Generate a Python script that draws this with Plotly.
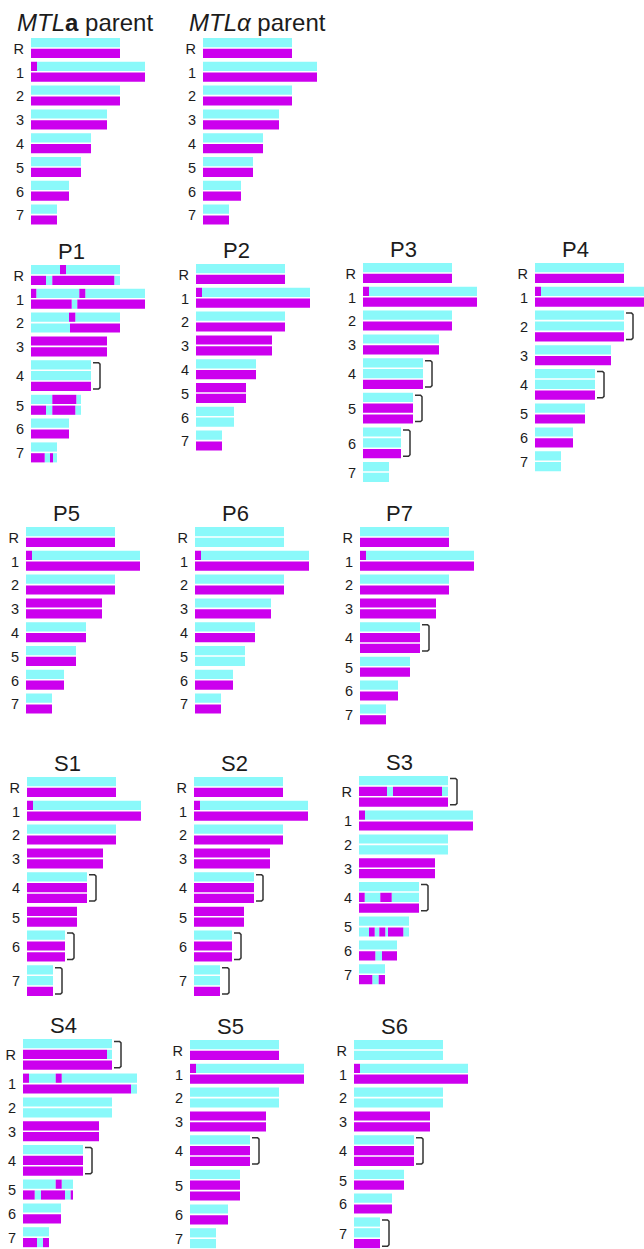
import plotly.graph_objects as go

# ---------------- data ----------------
chrom_names = ["R", "1", "2", "3", "4", "5", "6", "7"]
chrom_len = [89, 114, 89, 76, 60, 50, 38, 26]

# A homolog is either "c" / "m" (whole chromosome one haplotype)
# or a list of (haplotype, start, end) segments along the chromosome.
TIP1 = [("m", 0, 6), ("c", 6, 114)]

mtla = [["c", "m"], [TIP1, "m"], ["c", "m"], ["c", "m"], ["c", "m"], ["c", "m"], ["c", "m"], ["c", "m"]]
mtlalpha = [["c", "m"], ["c", "m"], ["c", "m"], ["c", "m"], ["c", "m"], ["c", "m"], ["c", "m"], ["c", "m"]]

p1 = [
    [[("c", 0, 29), ("m", 29, 35), ("c", 35, 89)],
     [("m", 0, 15), ("c", 15, 21.3), ("m", 21.3, 83.3), ("c", 83.3, 89)]],
    [[("m", 0, 5.3), ("c", 5.3, 48.3), ("m", 48.3, 54.3), ("c", 54.3, 114)],
     [("m", 0, 40.7), ("c", 40.7, 46.3), ("m", 46.3, 114)]],
    [[("c", 0, 38), ("m", 38, 44.3), ("c", 44.3, 89)],
     [("c", 0, 39), ("m", 39, 89)]],
    ["m", "m"],
    ["c", "c", "m"],
    [[("c", 0, 21.3), ("m", 21.3, 45.3), ("c", 45.3, 50)],
     [("m", 0, 15), ("c", 15, 21.3), ("m", 21.3, 44.3), ("c", 44.3, 50)]],
    ["c", "m"],
    ["c", [("m", 0, 13.7), ("c", 13.7, 19), ("m", 19, 22), ("c", 22, 26)]],
]
p2 = [["c", "m"], [TIP1, "m"], ["c", "m"], ["m", "m"], ["c", "m"], ["m", "m"], ["c", "c"], ["c", "m"]]
p3 = [["c", "m"], [TIP1, "m"], ["c", "m"], ["c", "m"], ["c", "c", "m"], ["c", "m", "m"], ["c", "c", "m"], ["c", "c"]]
p4 = [["c", "m"], [TIP1, "m"], ["c", "c", "m"], ["c", "m"], ["c", "c", "m"], ["c", "m"], ["c", "m"], ["c", "c"]]
p5 = [["c", "m"], [TIP1, "m"], ["c", "m"], ["m", "m"], ["c", "m"], ["c", "m"], ["c", "m"], ["c", "m"]]
p6 = [["c", "c"], [TIP1, "m"], ["c", "m"], ["c", "m"], ["c", "m"], ["c", "c"], ["c", "m"], ["c", "m"]]
p7 = [["c", "m"], [TIP1, "m"], ["c", "m"], ["m", "m"], ["c", "m", "m"], ["c", "m"], ["c", "m"], ["c", "m"]]
s1 = [["c", "m"], [TIP1, "m"], ["c", "m"], ["m", "m"], ["c", "m", "m"], ["m", "m"], ["c", "m", "m"], ["c", "c", "m"]]
s2 = [["c", "m"], [TIP1, "m"], ["c", "m"], ["m", "m"], ["c", "m", "m"], ["m", "m"], ["c", "m", "m"], ["c", "c", "m"]]
s3 = [
    ["c", [("m", 0, 28), ("c", 28, 34), ("m", 34, 83), ("c", 83, 89)], "m"],
    [TIP1, "m"],
    ["c", "c"],
    ["m", "m"],
    ["c", [("m", 0, 5.7), ("c", 5.7, 21.3), ("m", 21.3, 32.7), ("c", 32.7, 60)], "m"],
    ["c", [("c", 0, 10), ("m", 10, 15.7), ("c", 15.7, 20.3), ("m", 20.3, 26.3),
           ("c", 26.3, 29), ("m", 29, 44.3), ("c", 44.3, 50)]],
    ["c", [("m", 0, 16.3), ("c", 16.3, 23), ("m", 23, 38)]],
    ["c", [("m", 0, 13.3), ("c", 13.3, 19.7), ("m", 19.7, 26)]],
]
s4 = [
    ["c", [("m", 0, 84), ("c", 84, 89)], "m"],
    [[("m", 0, 6), ("c", 6, 32.7), ("m", 32.7, 38.7), ("c", 38.7, 114)],
     [("m", 0, 108), ("c", 108, 114)]],
    ["c", "c"],
    ["m", "m"],
    ["c", "m", "m"],
    [[("c", 0, 32.7), ("m", 32.7, 38.7), ("c", 38.7, 50)],
     [("m", 0, 11.7), ("c", 11.7, 18), ("m", 18, 42), ("c", 42, 47.7), ("m", 47.7, 50)]],
    ["c", "m"],
    ["c", [("m", 0, 14), ("c", 14, 20), ("m", 20, 26)]],
]
s5 = [["c", "m"], [TIP1, "m"], ["c", "c"], ["m", "m"], ["c", "m", "m"], ["c", "m", "m"], ["c", "m"], ["c", "c"]]
s6 = [["c", "c"], [TIP1, "m"], ["c", "c"], ["m", "m"], ["c", "m", "m"], ["c", "m"], ["c", "m"], ["c", "c", "m"]]

karyotypes = {
    "MTLa": mtla, "MTLalpha": mtlalpha,
    "P1": p1, "P2": p2, "P3": p3, "P4": p4, "P5": p5, "P6": p6, "P7": p7,
    "S1": s1, "S2": s2, "S3": s3, "S4": s4, "S5": s5, "S6": s6,
}

# trisomies marked with a bracket
brackets = {
    "P1": ["4"], "P3": ["4", "5", "6"], "P4": ["2", "4"], "P7": ["4"],
    "S1": ["4", "6", "7"], "S2": ["4", "6", "7"], "S3": ["R", "4"],
    "S4": ["R", "4"], "S5": ["4"], "S6": ["4", "7"],
}

titles = {
    "MTLa": "<i>MTL</i><b>a</b> parent",
    "MTLalpha": "<i>MTLα</i> parent",
    "P1": "P1", "P2": "P2", "P3": "P3", "P4": "P4", "P5": "P5", "P6": "P6", "P7": "P7",
    "S1": "S1", "S2": "S2", "S3": "S3", "S4": "S4", "S5": "S5", "S6": "S6",
}

# ---------------- layout / style ----------------
W, H = 644, 1249
# left edge of the bars and top of the first bar of each panel (pixels)
origins = {
    "MTLa": (31, 38), "MTLalpha": (203, 38),
    "P1": (31, 265), "P2": (196, 264), "P3": (363, 263), "P4": (535, 263),
    "P5": (26, 527), "P6": (195, 527), "P7": (360, 527),
    "S1": (27, 777), "S2": (194, 777), "S3": (359, 776),
    "S4": (23, 1039), "S5": (190, 1040), "S6": (354, 1040),
}
COLORS = {"c": "#8AF9FA", "m": "#CC00EE"}
PITCH = 10.8     # distance between homolog bars
BAR = 9.2        # bar thickness
CHR_GAP = 2.2    # extra space between chromosomes
XSPAN = 130
HEAD = 34        # room above the first bar for the panel title
FONT = "Liberation Sans, Arial, Helvetica, sans-serif"
TEXT = "#1c1c1c"


def segments(hom, length):
    if isinstance(hom, str):
        return [(hom, 0, length)]
    return hom


fig = go.Figure()
layout = dict(
    width=W, height=H, autosize=False,
    margin=dict(l=0, r=0, t=0, b=0),
    paper_bgcolor="white", plot_bgcolor="rgba(0,0,0,0)",
    barmode="overlay", showlegend=False,
    font=dict(family=FONT, color=TEXT),
)
annotations = []

for k, name in enumerate(karyotypes):
    idx = k + 1
    xref = "x" if idx == 1 else f"x{idx}"
    yref = "y" if idx == 1 else f"y{idx}"
    x0, y0 = origins[name]
    karyo = karyotypes[name]

    bars = {"c": ([], [], []), "m": ([], [], [])}
    tickvals = []
    top = 0.0
    for ci, homs in enumerate(karyo):
        n = len(homs)
        for hi, hom in enumerate(homs):
            yc = top + hi * PITCH + BAR / 2
            for hap, s, e in segments(hom, chrom_len[ci]):
                ys, bs, ls = bars[hap]
                ys.append(yc)
                bs.append(s)
                ls.append(e - s)
        span = (n - 1) * PITCH + BAR
        tickvals.append(top + span / 2 + 0.8)
        if chrom_names[ci] in brackets.get(name, []):
            L = chrom_len[ci]
            yt, yb = top + 2.5, top + span - 2
            fig.add_trace(go.Scatter(
                x=[L + 2, L + 7.6, L + 9, L + 9, L + 7.6, L + 2],
                y=[yt, yt, yt + 1.4, yb - 1.4, yb, yb],
                mode="lines", line=dict(color="#333333", width=1.5),
                hoverinfo="skip", xaxis=xref, yaxis=yref))
        top += n * PITCH + CHR_GAP
    content_h = top - CHR_GAP

    for hap, (ys, bs, ls) in bars.items():
        fig.add_trace(go.Bar(
            y=ys, x=ls, base=bs, orientation="h", width=BAR,
            marker=dict(color=COLORS[hap], line=dict(width=0)),
            hoverinfo="skip", xaxis=xref, yaxis=yref))

    x_right = min(x0 + XSPAN, W)
    top_px = y0 - HEAD
    bot_px = min(y0 + content_h + 3, H)
    layout["xaxis" if idx == 1 else f"xaxis{idx}"] = dict(
        domain=[x0 / W, x_right / W], range=[0, x_right - x0],
        visible=False, anchor=yref, fixedrange=True)
    layout["yaxis" if idx == 1 else f"yaxis{idx}"] = dict(
        domain=[1 - bot_px / H, 1 - top_px / H],
        range=[bot_px - y0, top_px - y0], anchor=xref,
        tickmode="array", tickvals=tickvals, ticktext=chrom_names,
        ticks="", showline=False, showgrid=False, zeroline=False,
        ticklabelstandoff=6, tickfont=dict(size=14.5, color=TEXT, family=FONT),
        fixedrange=True)

    if name.startswith("MTL"):
        # parent titles start left of the bars, so place them in domain units
        annotations.append(dict(
            text=titles[name], xref=f"{xref} domain", yref=yref,
            x=-16 / (x_right - x0), y=-16,
            xanchor="left", yanchor="middle", showarrow=False,
            font=dict(size=24, color=TEXT, family=FONT)))
    else:
        annotations.append(dict(
            text=titles[name], xref=xref, yref=yref, x=40, y=-13.5,
            xanchor="center", yanchor="middle", showarrow=False,
            font=dict(size=22, color=TEXT, family=FONT)))

layout["annotations"] = annotations
fig.update_layout(**layout)
fig.write_html("out.html")
